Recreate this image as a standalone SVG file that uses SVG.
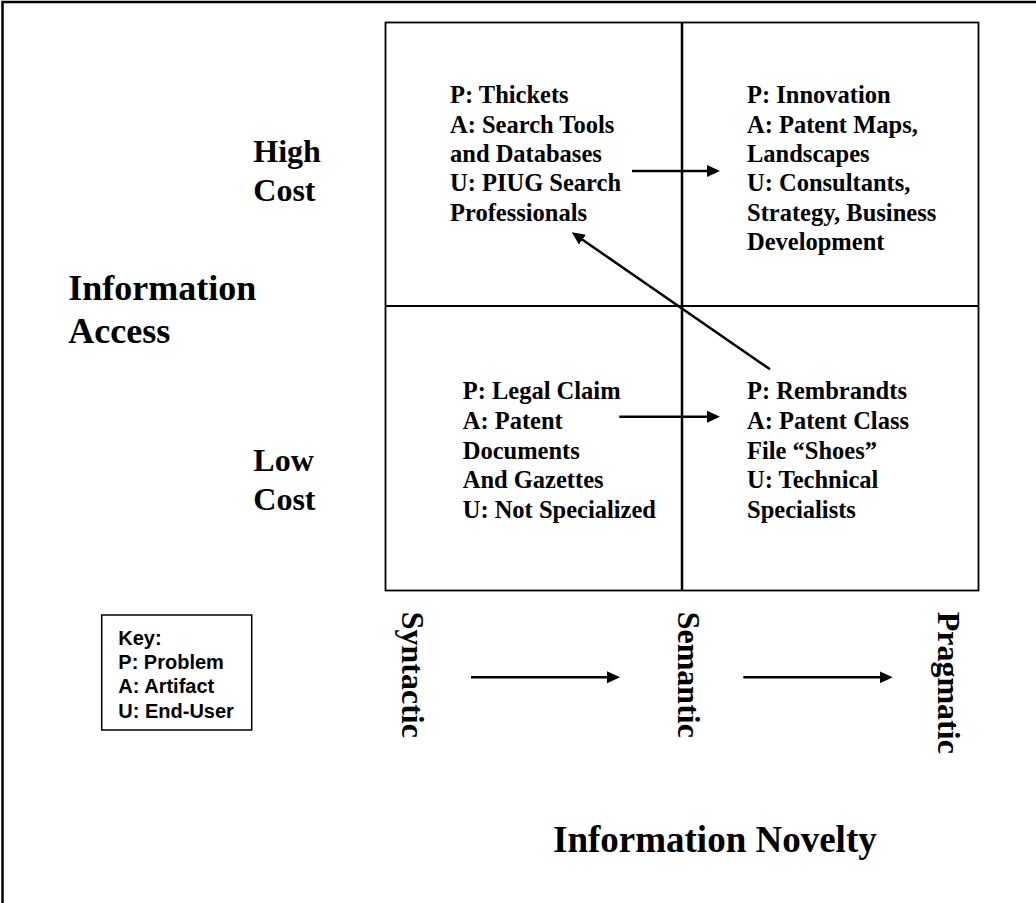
<svg xmlns="http://www.w3.org/2000/svg" width="1036" height="903" viewBox="0 0 1036 903">
  <style>
    .serif { font-family: "Liberation Serif", "Times New Roman", serif; font-weight: bold; fill: #000; }
    .cell { font-size: 24.5px; }
    .axis { font-size: 32px; }
    .title { font-size: 36px; }
    .key { font-family: "Liberation Sans", Arial, sans-serif; font-weight: bold; font-size: 20px; fill: #000; }
    .conn { stroke: #000; stroke-width: 2.5; fill: none; marker-end: url(#head); }
  </style>
  <defs>
    <marker id="head" markerUnits="userSpaceOnUse" markerWidth="14" markerHeight="13" refX="10" refY="6" orient="auto">
      <path d="M0,0 L13,6 L0,12 Z" fill="#000"/>
    </marker>
  </defs>

  <rect width="1036" height="903" fill="#fff"/>
  <!-- page frame (runs off the right and bottom) -->
  <rect x="2.5" y="2" width="1100" height="1000" fill="none" stroke="#000" stroke-width="2.5"/>

  <!-- 2x2 matrix -->
  <g id="matrix">
    <rect x="385.5" y="22.5" width="593" height="568" fill="none" stroke="#000" stroke-width="1.8"/>
    <line x1="385.5" y1="306" x2="978.5" y2="306" stroke="#000" stroke-width="1.8"/>
    <line x1="682" y1="22.5" x2="682" y2="590.5" stroke="#000" stroke-width="2.5"/>
  </g>

  <g id="cell-thickets" class="serif cell">
    <text x="450" y="103.3">P: Thickets</text>
    <text x="450" y="132.6">A: Search Tools</text>
    <text x="450" y="161.9">and Databases</text>
    <text x="450" y="191.2">U: PIUG Search</text>
    <text x="450" y="220.5">Professionals</text>
  </g>

  <g id="cell-innovation" class="serif cell">
    <text x="747" y="103.3">P: Innovation</text>
    <text x="747" y="132.6">A: Patent Maps,</text>
    <text x="747" y="161.9">Landscapes</text>
    <text x="747" y="191.2">U: Consultants,</text>
    <text x="747" y="220.5">Strategy, Business</text>
    <text x="747" y="249.8">Development</text>
  </g>

  <g id="cell-legal-claim" class="serif cell">
    <text x="462.7" y="399.3">P: Legal Claim</text>
    <text x="462.7" y="428.9">A: Patent</text>
    <text x="462.7" y="458.5">Documents</text>
    <text x="462.7" y="488.1">And Gazettes</text>
    <text x="462.7" y="517.7">U: Not Specialized</text>
  </g>

  <g id="cell-rembrandts" class="serif cell">
    <text x="747" y="399.3">P: Rembrandts</text>
    <text x="747" y="428.9">A: Patent Class</text>
    <text x="747" y="458.5">File “Shoes”</text>
    <text x="747" y="488.1">U: Technical</text>
    <text x="747" y="517.7">Specialists</text>
  </g>

  <!-- vertical axis labels -->
  <g id="label-high-cost" class="serif axis">
    <text x="253.3" y="161.7">High</text>
    <text x="253.3" y="201">Cost</text>
  </g>
  <g id="label-low-cost" class="serif axis">
    <text x="253.3" y="470.7">Low</text>
    <text x="253.3" y="510">Cost</text>
  </g>
  <g id="label-information-access" class="serif title">
    <text x="68.3" y="300">Information</text>
    <text x="68.3" y="343.3">Access</text>
  </g>

  <!-- horizontal axis labels -->
  <g id="label-syntactic" class="serif axis">
    <text transform="translate(401.7,611.7) rotate(90)">Syntactic</text>
  </g>
  <g id="label-semantic" class="serif axis">
    <text transform="translate(678.3,611.7) rotate(90)">Semantic</text>
  </g>
  <g id="label-pragmatic" class="serif axis">
    <text transform="translate(938.3,611.7) rotate(90)">Pragmatic</text>
  </g>
  <g id="label-information-novelty" class="serif">
    <text x="553" y="852" font-size="37">Information Novelty</text>
  </g>

  <!-- legend -->
  <g id="key">
    <rect x="101.7" y="615" width="150" height="115" fill="#fff" stroke="#000" stroke-width="1.5"/>
    <text class="key" x="118.3" y="645">Key:</text>
    <text class="key" x="118.3" y="668.8">P: Problem</text>
    <text class="key" x="118.3" y="692.8">A: Artifact</text>
    <text class="key" x="118.3" y="717.5">U: End-User</text>
  </g>

  <!-- connectors -->
  <g id="connectors">
    <line class="conn" x1="632" y1="171" x2="717" y2="171"/>
    <line class="conn" x1="619.3" y1="416.7" x2="717" y2="416.7"/>
    <line class="conn" x1="770" y1="369.3" x2="574.2" y2="234"/>
    <line class="conn" x1="471" y1="677.3" x2="617" y2="677.3"/>
    <line class="conn" x1="743.3" y1="677.3" x2="889.7" y2="677.3"/>
  </g>
</svg>
